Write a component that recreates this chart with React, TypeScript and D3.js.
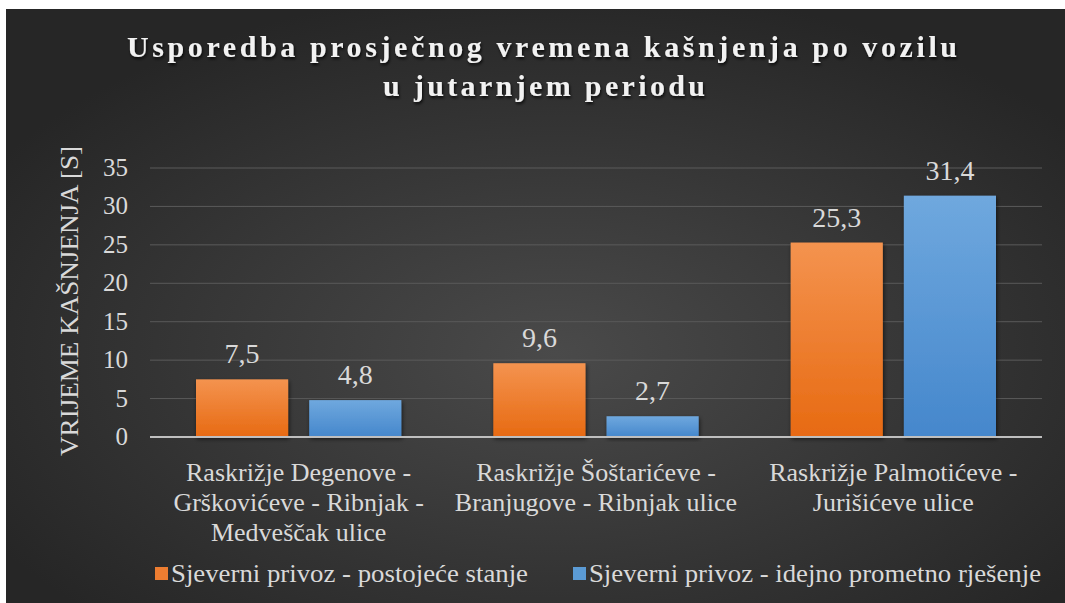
import React from "react";
import * as d3 from "d3";

const titleLines = ["Usporedba prosječnog vremena kašnjenja po vozilu", "u jutarnjem periodu"];
const yAxisTitle = "VRIJEME KAŠNJENJA [S]";
const categories = [
  "Raskrižje Degenove - Grškovićeve - Ribnjak - Medveščak ulice",
  "Raskrižje Šoštarićeve - Branjugove - Ribnjak ulice",
  "Raskrižje Palmotićeve - Jurišićeve ulice",
];
const categoryLines = [
  ["Raskrižje Degenove -", "Grškovićeve - Ribnjak -", "Medveščak ulice"],
  ["Raskrižje Šoštarićeve -", "Branjugove - Ribnjak ulice"],
  ["Raskrižje Palmotićeve -", "Jurišićeve ulice"],
];
const seriesNames = ["Sjeverni privoz - postojeće stanje", "Sjeverni privoz - idejno prometno rješenje"];
const existingValues = [7.5, 9.6, 25.3];
const proposedValues = [4.8, 2.7, 31.4];
const yTicks = [0, 5, 10, 15, 20, 25, 30, 35];

const W = 1065;
const H = 603;
const plotLeft = 150;
const plotRight = 1042;
const plotTop = 168;
const plotBottom = 437;
const FONT = "'Liberation Serif', 'Times New Roman', serif";
const ts = { fontFamily: FONT };

export default function App() {
  const y = d3.scaleLinear().domain([0, 35]).range([plotBottom, plotTop]);
  const x0 = d3.scaleBand().domain(categories).range([plotLeft, plotRight]).padding(0);
  const x1 = d3.scaleBand().domain(["0", "1"]).range([46, x0.bandwidth() - 46]).paddingInner(0.186);
  const series = [existingValues, proposedValues];
  const fills = ["url(#gOrange)", "url(#gBlue)"];
  const legendColors = ["#ed7d31", "#5b9bd5"];
  const fmt = (v: number) => v.toFixed(1).replace(".", ",");

  return (
    <svg width={W} height={H} style={{ position: "absolute", left: 0, top: 0, background: "#fff", fontFamily: FONT }}>
      <defs>
        <radialGradient id="bg" cx="52%" cy="58%" r="62%">
          <stop offset="0%" stopColor="#4a4a4a" />
          <stop offset="100%" stopColor="#262626" />
        </radialGradient>
        <linearGradient id="gOrange" x1="0" y1="0" x2="0" y2="1">
          <stop offset="0%" stopColor="#f4934f" />
          <stop offset="100%" stopColor="#e76a12" />
        </linearGradient>
        <linearGradient id="gBlue" x1="0" y1="0" x2="0" y2="1">
          <stop offset="0%" stopColor="#6fa8de" />
          <stop offset="100%" stopColor="#4587cc" />
        </linearGradient>
        <filter id="shadow" x="-20%" y="-20%" width="140%" height="140%">
          <feDropShadow dx="1" dy="2" stdDeviation="2" floodColor="#000" floodOpacity="0.6" />
        </filter>
        <filter id="tshadow" x="-5%" y="-30%" width="110%" height="160%">
          <feDropShadow dx="1" dy="2" stdDeviation="1.5" floodColor="#000" floodOpacity="0.8" />
        </filter>
      </defs>
      <rect x={6} y={9} width={W - 6} height={H - 9} fill="url(#bg)" />

      {/* Title */}
      <g filter="url(#tshadow)" fill="#f2f2f2" fontWeight="bold" fontSize={30} textAnchor="middle">
        <text style={ts} x={542} y={57} textLength={830} lengthAdjust="spacing">{titleLines[0]}</text>
        <text style={ts} x={544} y={96} textLength={322} lengthAdjust="spacing">{titleLines[1]}</text>
      </g>

      {/* Gridlines */}
      {yTicks.filter((t) => t !== 0).map((t) => (
        <line key={t} x1={plotLeft} x2={plotRight} y1={y(t)} y2={y(t)} stroke="#5a5a5a" strokeWidth={1} />
      ))}

      {/* Y ticks */}
      {yTicks.map((t) => (
        <text style={ts} key={t} x={128} y={y(t) + 8} textAnchor="end" fontSize={25} fill="#d9d9d9">{t}</text>
      ))}

      {/* Y axis title */}
      <text
        style={ts}
        transform={`translate(78, 301) rotate(-90)`}
        textAnchor="middle"
        fontSize={26}
        fill="#d9d9d9"
        textLength={310}
        lengthAdjust="spacingAndGlyphs"
      >{yAxisTitle}</text>

      {/* Bars */}
      {categories.map((c, ci) => (
        <g key={c} transform={`translate(${x0(c)},0)`}>
          {series.map((vals, si) => {
            const bx = x1(String(si)) as number;
            const bw = x1.bandwidth();
            const v = vals[ci];
            return (
              <g key={si}>
                <rect x={bx} y={y(v)} width={bw} height={y(0) - y(v)} fill={fills[si]} filter="url(#shadow)" />
                <text style={ts} x={bx + bw / 2} y={y(v) - 16} textAnchor="middle" fontSize={28} fill="#d9d9d9">{fmt(v)}</text>
              </g>
            );
          })}
        </g>
      ))}

      {/* Baseline */}
      <line x1={plotLeft} x2={plotRight} y1={y(0)} y2={y(0)} stroke="#bfbfbf" strokeWidth={2} />

      {/* Category labels */}
      {categories.map((c, ci) => (
        <text style={ts} key={c} textAnchor="middle" fontSize={26} fill="#d9d9d9">
          {categoryLines[ci].map((ln, li) => (
            <tspan key={li} x={(x0(c) as number) + x0.bandwidth() / 2} y={481 + li * 30}>{ln}</tspan>
          ))}
        </text>
      ))}

      {/* Legend */}
      <rect x={155} y={567} width={13} height={13} fill={legendColors[0]} />
      <text style={ts} x={171} y={582} fontSize={26} fill="#d9d9d9" textLength={357} lengthAdjust="spacingAndGlyphs">{seriesNames[0]}</text>
      <rect x={573} y={567} width={13} height={13} fill={legendColors[1]} />
      <text style={ts} x={589} y={582} fontSize={26} fill="#d9d9d9" textLength={452} lengthAdjust="spacingAndGlyphs">{seriesNames[1]}</text>
    </svg>
  );
}
